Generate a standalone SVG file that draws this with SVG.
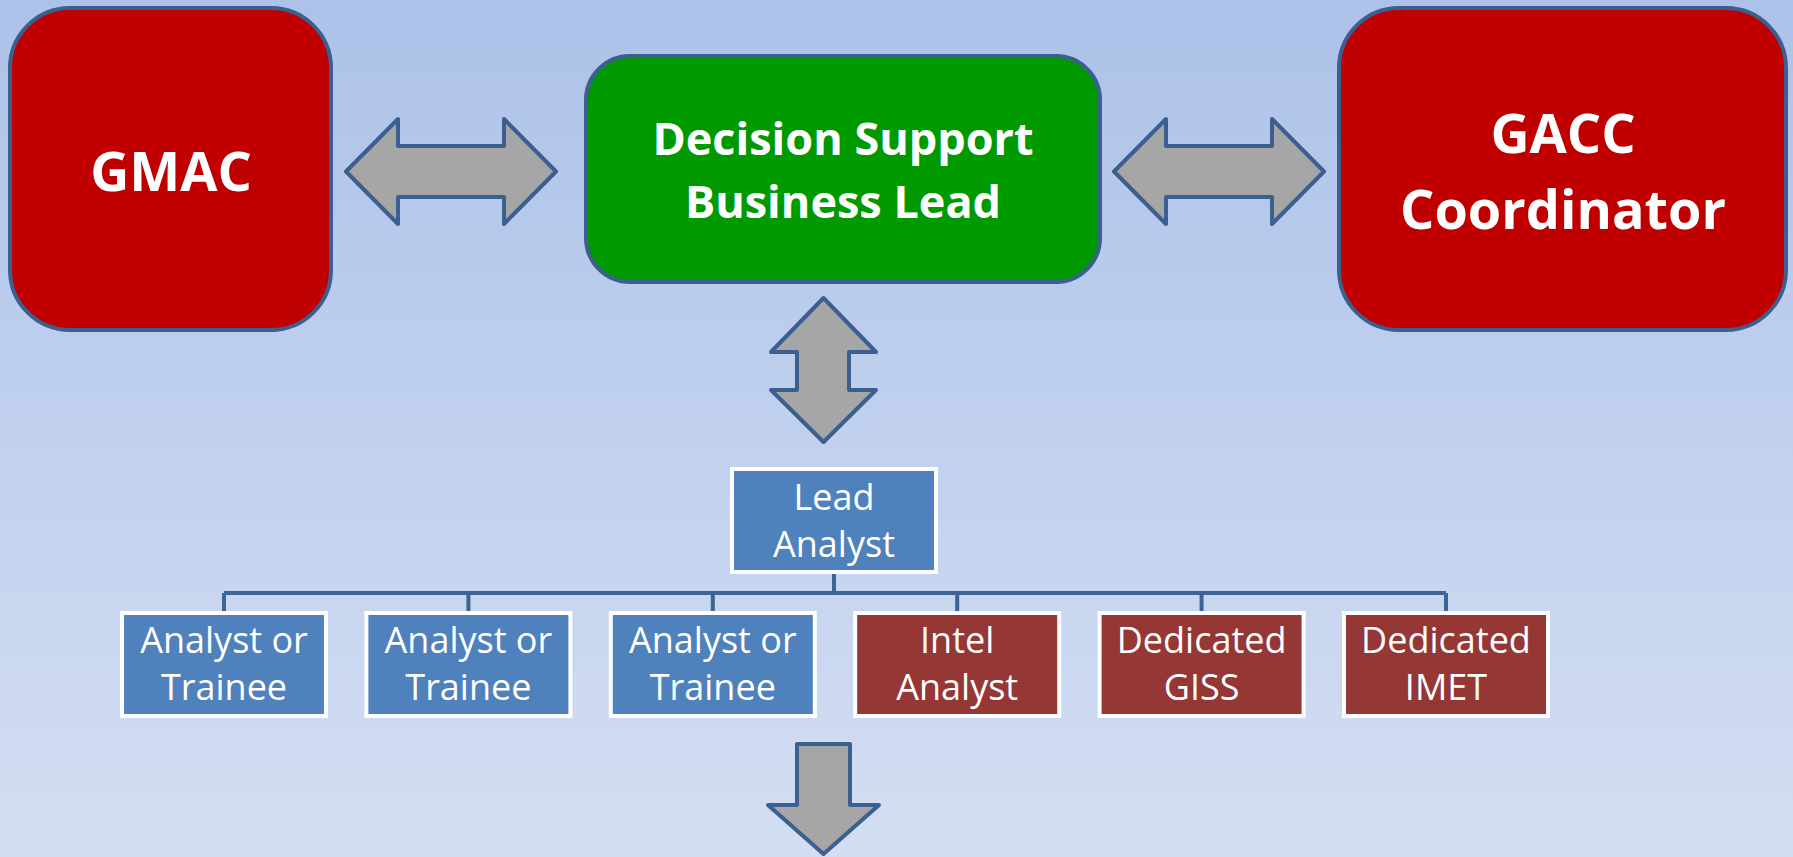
<svg xmlns="http://www.w3.org/2000/svg" width="1793" height="857" viewBox="0 0 1793 857">
<defs>
<linearGradient id="bg" x1="0" y1="0" x2="0" y2="1">
<stop offset="0" stop-color="#adc2e9"/>
<stop offset="1" stop-color="#d3def2"/>
</linearGradient>
<style>
.big{fill:#c00000;stroke:#3b5f8f;stroke-width:4}
.green{fill:#009900;stroke:#3b5f8f;stroke-width:4}
.arr{fill:#a6a6a6;stroke:#3b5f8f;stroke-width:4;stroke-linejoin:round}
.blue{fill:#4f81bd;stroke:#ffffff;stroke-width:4}
.red{fill:#953735;stroke:#ffffff;stroke-width:4}
.bt{font-family:"Open Sans","DejaVu Sans",sans-serif;font-weight:bold;fill:#ffffff;text-anchor:middle}
.st{font-family:"Open Sans","DejaVu Sans",sans-serif;font-size:36px;fill:#ffffff;text-anchor:middle}
.conn{fill:none;stroke:#3c6494;stroke-width:4}
</style>
</defs>
<rect x="0" y="0" width="1793" height="857" fill="url(#bg)"/>

<g id="connectors">
<path class="conn" d="M834 572V593M224 593H1446M224 593V613M468.4 593V613M712.8 593V613M957.2 593V613M1201.6 593V613M1446 593V613"/>
<path id="arrow-left" class="arr" d="M346 171.5L398 119V146H504V119L556 171.5L504 224V197H398V224Z"/>
<path id="arrow-right" class="arr" d="M1114 171.5L1166 119V146H1272V119L1324 171.5L1272 224V197H1166V224Z"/>
<path id="arrow-vert" class="arr" d="M823.5 298L876 352H849V390H876L823.5 442L771 390H797V352H771Z"/>
<path id="arrow-down" class="arr" d="M797 744H850V805H879L823.5 854L768 805H797Z"/>
</g>

<g id="gmac">
<rect class="big" x="10" y="8" width="321" height="322" rx="60" ry="60"/>
<text class="bt" x="171" y="191" font-size="54">GMAC</text>
</g>

<g id="decision-support">
<rect class="green" x="586" y="56" width="514" height="226" rx="44" ry="44"/>
<text class="bt" x="843" y="155" font-size="45">Decision Support</text>
<text class="bt" x="843" y="218" font-size="45">Business Lead</text>
</g>

<g id="gacc">
<rect class="big" x="1339" y="8" width="447" height="322" rx="60" ry="60"/>
<text class="bt" x="1563" y="153" font-size="54">GACC</text>
<text class="bt" x="1563" y="229" font-size="54">Coordinator</text>
</g>

<g id="lead-analyst">
<rect class="blue" x="732" y="469" width="204" height="103"/>
<text class="st" x="834" y="510">Lead</text>
<text class="st" x="834" y="557">Analyst</text>
</g>

<g id="analyst1">
<rect class="blue" x="122" y="613" width="204" height="103"/>
<text class="st" x="224" y="653">Analyst or</text>
<text class="st" x="224" y="700">Trainee</text>
</g>
<g id="analyst2">
<rect class="blue" x="366.4" y="613" width="204" height="103"/>
<text class="st" x="468.4" y="653">Analyst or</text>
<text class="st" x="468.4" y="700">Trainee</text>
</g>
<g id="analyst3">
<rect class="blue" x="610.8" y="613" width="204" height="103"/>
<text class="st" x="712.8" y="653">Analyst or</text>
<text class="st" x="712.8" y="700">Trainee</text>
</g>
<g id="intel">
<rect class="red" x="855.2" y="613" width="204" height="103"/>
<text class="st" x="957.2" y="653">Intel</text>
<text class="st" x="957.2" y="700">Analyst</text>
</g>
<g id="giss">
<rect class="red" x="1099.6" y="613" width="204" height="103"/>
<text class="st" x="1201.6" y="653">Dedicated</text>
<text class="st" x="1201.6" y="700">GISS</text>
</g>
<g id="imet">
<rect class="red" x="1344" y="613" width="204" height="103"/>
<text class="st" x="1446" y="653">Dedicated</text>
<text class="st" x="1446" y="700">IMET</text>
</g>
</svg>
